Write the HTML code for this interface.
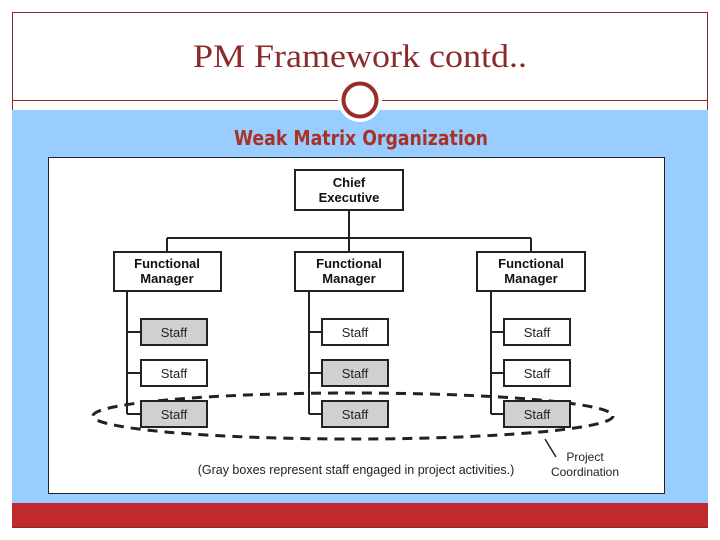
<!DOCTYPE html>
<html><head><style>
body{margin:0;width:720px;height:540px;background:#fff;position:relative;overflow:hidden;font-family:"Liberation Sans",sans-serif}
</style></head><body>
<svg width="720" height="540" xmlns="http://www.w3.org/2000/svg" style="position:absolute;left:0;top:0">
<rect x="12.5" y="12.5" width="695" height="515" fill="#fff" stroke="#8b2a2a"/>
<rect x="12" y="110" width="696" height="393" fill="#99ccff"/>
<rect x="12" y="503" width="696" height="24" fill="#c0292e"/>
<line x1="12" y1="100.5" x2="708" y2="100.5" stroke="#8b2a2a"/>
<circle cx="360" cy="100" r="22" fill="#fff"/>
<circle cx="360" cy="100" r="16.5" fill="#fff" stroke="#9b2a2a" stroke-width="4"/>
<text x="360" y="67" text-anchor="middle" font-family="Liberation Serif,serif" font-size="33" fill="#8b2a2a" textLength="334" lengthAdjust="spacingAndGlyphs">PM Framework contd..</text>
<text x="361" y="145" text-anchor="middle" font-family="DejaVu Sans Condensed,DejaVu Sans,sans-serif" font-size="20" font-weight="bold" fill="#a93226" textLength="254" lengthAdjust="spacingAndGlyphs">Weak Matrix Organization</text>
<rect x="48.5" y="157.5" width="616" height="336" fill="#fff" stroke="#222"/>
<g stroke="#222" stroke-width="2" fill="none">
<ellipse cx="353" cy="416" rx="260" ry="23" stroke-width="3" stroke-dasharray="10,7"/>
<line x1="349" y1="210" x2="349" y2="238"/>
<line x1="167" y1="238" x2="531" y2="238"/>
<line x1="167" y1="238" x2="167" y2="252"/>
<line x1="531" y1="238" x2="531" y2="252"/>
<line x1="349" y1="238" x2="349" y2="252"/>
<path d="M127 291V414M127 332H141M127 373H141M127 414H141"/>
<path d="M309 291V414M309 332H322M309 373H322M309 414H322"/>
<path d="M491 291V414M491 332H504M491 373H504M491 414H504"/>
<rect x="295" y="170" width="108" height="40" fill="#fff"/>
<rect x="114" y="252" width="107" height="39" fill="#fff"/>
<rect x="295" y="252" width="108" height="39" fill="#fff"/>
<rect x="477" y="252" width="108" height="39" fill="#fff"/>
<rect x="141" y="319" width="66" height="26" fill="#d0d0d0"/>
<rect x="141" y="360" width="66" height="26" fill="#fff"/>
<rect x="141" y="401" width="66" height="26" fill="#d0d0d0"/>
<rect x="322" y="319" width="66" height="26" fill="#fff"/>
<rect x="322" y="360" width="66" height="26" fill="#d0d0d0"/>
<rect x="322" y="401" width="66" height="26" fill="#d0d0d0"/>
<rect x="504" y="319" width="66" height="26" fill="#fff"/>
<rect x="504" y="360" width="66" height="26" fill="#fff"/>
<rect x="504" y="401" width="66" height="26" fill="#d0d0d0"/>
<line x1="545" y1="439" x2="556" y2="457" stroke-width="1.5"/>
</g>
<g font-size="13" font-weight="bold" text-anchor="middle" fill="#111">
<text x="349" y="187">Chief</text><text x="349" y="202">Executive</text>
<text x="167" y="268">Functional</text><text x="167" y="283">Manager</text>
<text x="349" y="268">Functional</text><text x="349" y="283">Manager</text>
<text x="531" y="268">Functional</text><text x="531" y="283">Manager</text>
</g>
<g font-size="13" text-anchor="middle" fill="#222">
<text x="174" y="337">Staff</text><text x="174" y="378">Staff</text><text x="174" y="419">Staff</text>
<text x="355" y="337">Staff</text><text x="355" y="378">Staff</text><text x="355" y="419">Staff</text>
<text x="537" y="337">Staff</text><text x="537" y="378">Staff</text><text x="537" y="419">Staff</text>
<text x="356" y="474" font-size="12.5">(Gray boxes represent staff engaged in project activities.)</text>
<text x="585" y="461" font-size="12">Project</text>
<text x="585" y="476" font-size="12">Coordination</text>
</g>
</svg>
</body></html>
